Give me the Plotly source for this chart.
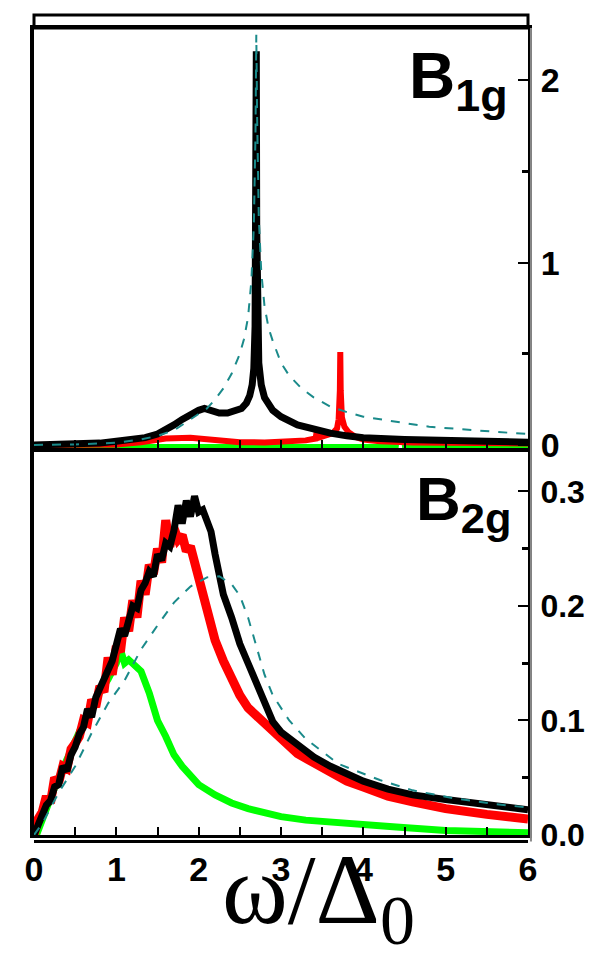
import plotly.graph_objects as go
from plotly.subplots import make_subplots

# ---------------- data: top panel (B1g) ----------------
b1g_black_x = [0, 0.5, 0.8, 1.0, 1.2, 1.35, 1.5, 1.6, 1.7, 1.8, 1.9, 2.0, 2.07, 2.15, 2.25, 2.35,
               2.45, 2.52, 2.58, 2.62, 2.65, 2.67, 2.685, 2.695, 2.70, 2.705, 2.715, 2.73, 2.76,
               2.8, 2.9, 3.0, 3.2, 3.4, 3.6, 3.8, 4.0, 4.5, 5.0, 5.5, 6.0]
b1g_black_y = [0, 0.002, 0.01, 0.02, 0.03, 0.04, 0.06, 0.08, 0.11, 0.14, 0.17, 0.19, 0.20, 0.19,
               0.175, 0.175, 0.185, 0.20, 0.23, 0.27, 0.33, 0.42, 0.65, 1.1, 2.16, 1.2, 0.7, 0.45,
               0.33, 0.26, 0.19, 0.155, 0.11, 0.085, 0.065, 0.05, 0.04, 0.03, 0.022, 0.018, 0.015]

b1g_red_x = [0, 1.0, 1.3, 1.6, 1.9, 2.2, 2.5, 2.8, 3.1, 3.3, 3.42, 3.44, 3.46, 3.55, 3.63, 3.68,
             3.70, 3.715, 3.72, 3.725, 3.74, 3.77, 3.82, 3.9, 4.0, 4.2, 4.6, 5.0, 5.5, 6.0]
b1g_red_y = [0, 0.002, 0.015, 0.035, 0.04, 0.025, 0.015, 0.014, 0.018, 0.025, 0.035, 0.09, 0.04,
             0.05, 0.065, 0.09, 0.14, 0.3, 0.51, 0.3, 0.15, 0.1, 0.07, 0.045, 0.03, 0.02, 0.014,
             0.012, 0.01, 0.008]

b1g_green_x = [0, 4.40, 4.41, 4.49, 4.50, 6.0]
b1g_green_y = [-0.008, -0.008, 0.03, 0.03, -0.008, -0.008]

b1g_teal_x = [0, 0.5, 1.0, 1.3, 1.5, 1.7, 1.9, 2.1, 2.2, 2.3, 2.4, 2.5, 2.55, 2.6, 2.64, 2.67,
              2.69, 2.70, 2.71, 2.73, 2.76, 2.8, 2.85, 2.9, 3.0, 3.1, 3.25, 3.4, 3.6, 3.8, 4.0,
              4.2, 4.5, 4.8, 5.2, 5.6, 6.0]
b1g_teal_y = [0, 0.003, 0.012, 0.03, 0.05, 0.08, 0.14, 0.2, 0.25, 0.31, 0.39, 0.5, 0.58, 0.7,
              0.9, 1.2, 1.7, 2.25, 1.8, 1.25, 0.95, 0.76, 0.64, 0.57, 0.45, 0.38, 0.31, 0.26,
              0.21, 0.18, 0.155, 0.14, 0.12, 0.1, 0.085, 0.072, 0.06]

# ---------------- data: bottom panel (B2g) ----------------
b2g_black_x = [0, 0.05, 0.1, 0.15, 0.2, 0.25, 0.3, 0.35, 0.4, 0.45, 0.5, 0.55, 0.6, 0.65, 0.7,
               0.75, 0.8, 0.85, 0.9, 0.95, 1.0, 1.05, 1.1, 1.15, 1.2, 1.25, 1.3, 1.35, 1.4, 1.45,
               1.5, 1.55, 1.6, 1.65, 1.7, 1.75, 1.8, 1.85, 1.9, 1.95, 2.0, 2.05, 2.1, 2.15, 2.2,
               2.25, 2.3, 2.4, 2.5, 2.6, 2.7, 2.8, 2.9, 3.0, 3.2, 3.4, 3.6, 3.8, 4.0, 4.3, 4.6,
               5.0, 5.5, 6.0]
b2g_black_y = [0, 0.01, 0.018, 0.026, 0.03, 0.042, 0.044, 0.06, 0.056, 0.07, 0.077, 0.088,
               0.094, 0.11, 0.103, 0.12, 0.128, 0.136, 0.147, 0.152, 0.166, 0.18, 0.174, 0.19,
               0.2, 0.198, 0.214, 0.22, 0.23, 0.226, 0.245, 0.24, 0.255, 0.252, 0.266, 0.288,
               0.272, 0.292, 0.278, 0.296, 0.282, 0.284, 0.276, 0.265, 0.245, 0.226, 0.21, 0.19,
               0.167, 0.15, 0.133, 0.115, 0.099, 0.09, 0.079, 0.068, 0.06, 0.053, 0.047, 0.04,
               0.035, 0.031, 0.026, 0.022]

b2g_red_x = [0, 0.05, 0.1, 0.15, 0.2, 0.25, 0.3, 0.35, 0.4, 0.45, 0.5, 0.55, 0.6, 0.65, 0.7,
             0.75, 0.8, 0.85, 0.9, 0.95, 1.0, 1.05, 1.1, 1.15, 1.2, 1.25, 1.3, 1.35, 1.4, 1.45,
             1.5, 1.55, 1.6, 1.65, 1.7, 1.75, 1.8, 1.85, 1.9, 1.95, 2.0, 2.1, 2.2, 2.3, 2.4,
             2.5, 2.6, 2.8, 3.0, 3.2, 3.4, 3.6, 3.8, 4.0, 4.3, 4.6, 5.0, 5.5, 6.0]
b2g_red_y = [0, 0.014, 0.02, 0.034, 0.028, 0.05, 0.046, 0.06, 0.058, 0.075, 0.08, 0.086, 0.1,
             0.098, 0.118, 0.112, 0.13, 0.125, 0.155, 0.14, 0.165, 0.16, 0.19, 0.178, 0.205,
             0.19, 0.222, 0.21, 0.236, 0.228, 0.25, 0.238, 0.275, 0.252, 0.268, 0.258, 0.262,
             0.248, 0.252, 0.238, 0.222, 0.194, 0.17, 0.152, 0.135, 0.122, 0.111, 0.097, 0.085,
             0.071, 0.063, 0.054, 0.047, 0.042, 0.034, 0.029, 0.023, 0.018, 0.014]

b2g_green_x = [0.03, 0.1, 0.2, 0.3, 0.4, 0.5, 0.6, 0.7, 0.8, 0.9, 1.0, 1.05, 1.1, 1.15, 1.2,
               1.3, 1.4, 1.5, 1.6, 1.7, 1.8, 1.9, 2.0, 2.2, 2.4, 2.6, 2.8, 3.0, 3.3, 3.6, 4.0,
               4.4, 5.0, 5.5, 6.0]
b2g_green_y = [0, 0.015, 0.032, 0.05, 0.066, 0.08, 0.098, 0.11, 0.125, 0.136, 0.15, 0.162,
               0.15, 0.153, 0.15, 0.143, 0.124, 0.1, 0.086, 0.07, 0.06, 0.051, 0.044, 0.035,
               0.028, 0.023, 0.019, 0.016, 0.013, 0.011, 0.009, 0.007, 0.004, 0.003, 0.002]

b2g_teal_x = [0, 0.1, 0.3, 0.5, 0.7, 0.9, 1.1, 1.3, 1.5, 1.7, 1.9, 2.1, 2.25, 2.4, 2.5, 2.6,
              2.7, 2.8, 2.9, 3.1, 3.3, 3.7, 4.2, 4.6, 5.1, 5.6, 6.0]
b2g_teal_y = [0, 0.01, 0.037, 0.06, 0.089, 0.115, 0.135, 0.162, 0.183, 0.203, 0.217, 0.225,
              0.226, 0.219, 0.209, 0.19, 0.165, 0.14, 0.122, 0.1, 0.084, 0.062, 0.048, 0.039,
              0.032, 0.027, 0.024]

x_ticks = [0, 1, 2, 3, 4, 5, 6]
top_y_ticks = [0, 1, 2]
top_y_labels = ["0", "1", "2"]
bot_y_ticks = [0.0, 0.1, 0.2, 0.3]
bot_y_labels = ["0.0", "0.1", "0.2", "0.3"]

BLACK, RED, GREEN, TEAL = "#000000", "#ff0000", "#00ff00", "#1a8a8a"
FONT = "Liberation Sans"

fig = make_subplots(rows=2, cols=1, shared_xaxes=True, vertical_spacing=0.005,
                    row_heights=[0.523, 0.477])

def add(x, y, color, width, row, dash="solid"):
    fig.add_trace(go.Scatter(x=x, y=y, mode="lines", showlegend=False,
                             line=dict(color=color, width=width, dash=dash)), row=row, col=1)

add(b1g_green_x, b1g_green_y, GREEN, 5, 1)
add(b1g_red_x, b1g_red_y, RED, 6, 1)
add(b1g_black_x, b1g_black_y, BLACK, 7, 1)
add(b1g_teal_x, b1g_teal_y, TEAL, 2, 1, dash="dash")

add(b2g_green_x, b2g_green_y, GREEN, 7, 2)
add(b2g_red_x, b2g_red_y, RED, 9, 2)
add(b2g_black_x, b2g_black_y, BLACK, 7, 2)
add(b2g_teal_x, b2g_teal_y, TEAL, 2, 2, dash="dash")

axis_common = dict(showline=True, linecolor="black", linewidth=3, mirror=True,
                   showgrid=False, zeroline=False, ticks="inside", tickcolor="black",
                   tickwidth=2)

fig.update_xaxes(range=[0, 6], tickvals=x_ticks, ticklen=8,
                 minor=dict(dtick=0.5, ticks="inside", ticklen=8, tickcolor="black", tickwidth=2),
                 **axis_common)
fig.update_xaxes(showticklabels=False, row=1, col=1)
fig.update_xaxes(showticklabels=True, row=2, col=1,
                 tickfont=dict(family=FONT, size=34, color="black", weight="bold"),
                 ticklabelstandoff=2)

fig.update_yaxes(range=[-0.0165, 2.287], side="right", tickvals=top_y_ticks, ticktext=top_y_labels,
                 ticklen=10, minor=dict(tickvals=[0.5, 1.5], ticks="inside", ticklen=6,
                                        tickcolor="black", tickwidth=3),
                 tickfont=dict(family=FONT, size=34, color="black", weight="bold"),
                 ticklabelstandoff=2, row=1, col=1, **axis_common)
fig.update_yaxes(range=[0.0, 0.3345], side="right", tickvals=bot_y_ticks, ticktext=bot_y_labels,
                 ticklen=10, minor=dict(tickvals=[0.05, 0.15, 0.25], ticks="inside", ticklen=6,
                                        tickcolor="black", tickwidth=3),
                 tickfont=dict(family=FONT, size=32, color="black", weight="bold"),
                 ticklabelstandoff=2, row=2, col=1, **axis_common)

fig.update_yaxes(linewidth=4)

annotations = [
    dict(text="B<sub>1g</sub>", x=0.755, y=0.988, xref="paper", yref="paper", xanchor="left",
         yanchor="top", showarrow=False,
         font=dict(family=FONT, size=64, color="black", weight="bold")),
    dict(text="B<sub>2g</sub>", x=0.77, y=0.462, xref="paper", yref="paper", xanchor="left",
         yanchor="top", showarrow=False,
         font=dict(family=FONT, size=62, color="black", weight="bold")),
    dict(text="ω/Δ<sub>0</sub>", x=0.575, y=0.004, xref="paper", yref="paper", xanchor="center",
         yanchor="top", showarrow=False,
         font=dict(family="Liberation Serif", size=100, color="black")),
]

shapes = [
    dict(type="rect", xref="paper", yref="paper", x0=0, x1=1, y0=1, y1=1.016,
         line=dict(color="black", width=3)),
    dict(type="line", xref="paper", yref="paper", x0=0, x1=1, y0=-0.008, y1=-0.008,
         line=dict(color="black", width=3)),
    dict(type="line", xref="paper", yref="paper", x0=1.006, x1=1.006, y0=-0.008, y1=1.0,
         line=dict(color="#888888", width=2)),
]

fig.update_layout(width=596, height=966, plot_bgcolor="white", paper_bgcolor="white",
                  margin=dict(l=26, r=76, t=20, b=139), annotations=annotations, shapes=shapes)

fig.write_html("out.html")
